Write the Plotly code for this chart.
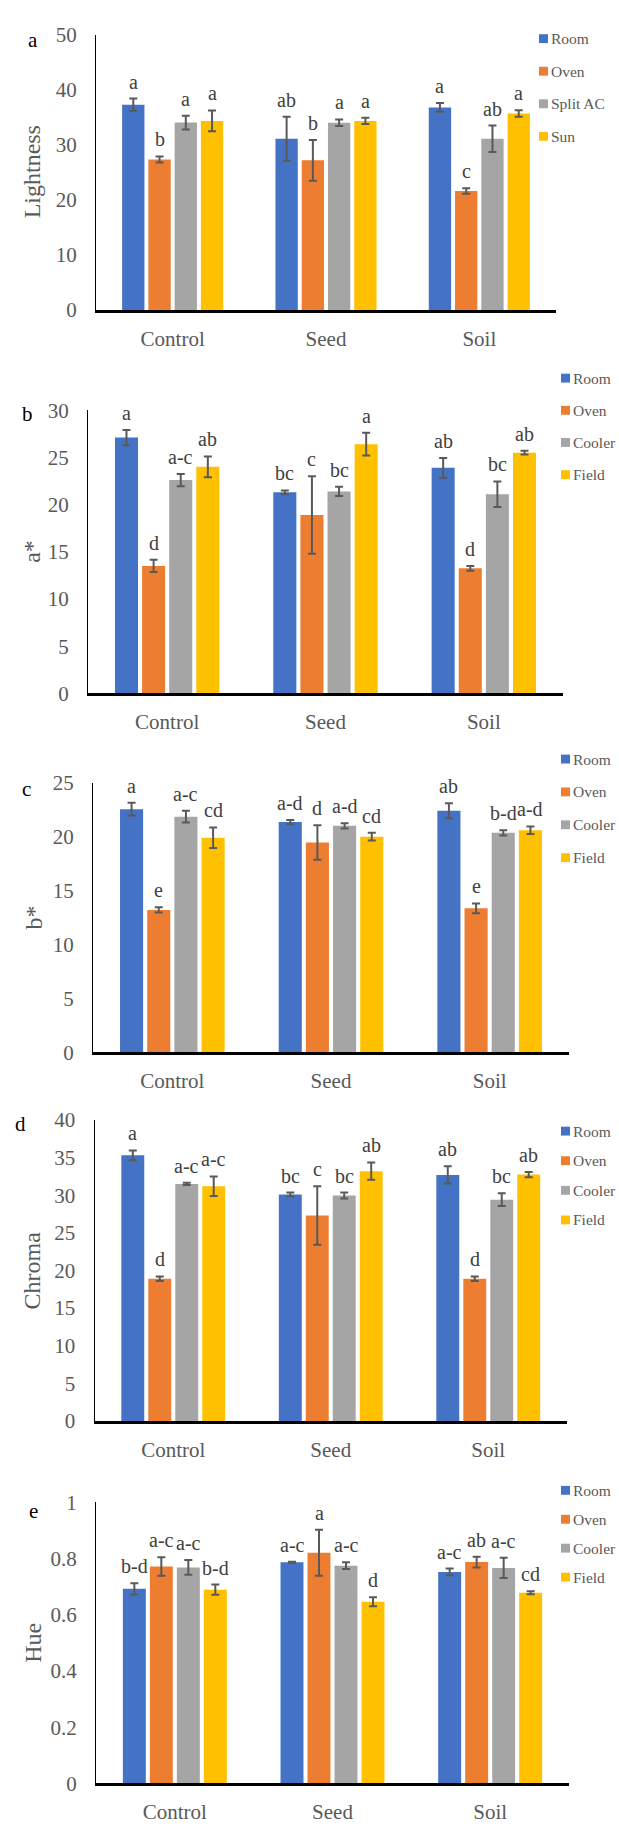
import plotly.graph_objects as go

# ---- data -------------------------------------------------------------
categories = ["Control", "Seed", "Soil"]

treatments_a = ["Room", "Oven", "Split AC", "Sun"]
treatments_bcde = ["Room", "Oven", "Cooler", "Field"]

# Lightness (rows: Room, Oven, Split AC, Sun; columns: Control, Seed, Soil)
lightness_mean = [[37.3, 31.1, 36.8], [27.35, 27.2, 21.6], [34.05, 34.0, 31.1], [34.35, 34.35, 35.7]]
lightness_err = [[1.1, 4.0, 0.8], [0.55, 3.7, 0.5], [1.25, 0.6, 2.4], [1.9, 0.55, 0.6]]
lightness_sig = [["a", "ab", "a"], ["b", "b", "c"], ["a", "a", "ab"], ["a", "a", "a"]]

# a* (rows: Room, Oven, Cooler, Field)
a_star_mean = [[27.1, 21.3, 23.9], [13.5, 18.9, 13.25], [22.6, 21.4, 21.1], [24.0, 26.4, 25.5]]
a_star_err = [[0.8, 0.2, 1.05], [0.65, 4.1, 0.25], [0.65, 0.5, 1.35], [1.1, 1.2, 0.2]]
a_star_sig = [["a", "bc", "ab"], ["d", "c", "d"], ["a-c", "bc", "bc"], ["ab", "a", "ab"]]

# b*
b_star_mean = [[22.55, 21.35, 22.4], [13.2, 19.45, 13.35], [21.85, 21.0, 20.35], [19.9, 20.0, 20.6]]
b_star_err = [[0.6, 0.2, 0.7], [0.25, 1.6, 0.45], [0.55, 0.25, 0.25], [0.95, 0.35, 0.35]]
b_star_sig = [["a", "a-d", "ab"], ["e", "d", "e"], ["a-c", "a-d", "b-d"], ["cd", "cd", "a-d"]]

# Chroma
chroma_mean = [[35.3, 30.1, 32.7], [18.9, 27.3, 18.9], [31.5, 29.95, 29.4], [31.2, 33.2, 32.75]]
chroma_err = [[0.65, 0.25, 1.15], [0.3, 3.9, 0.3], [0.15, 0.4, 0.85], [1.3, 1.15, 0.35]]
chroma_sig = [["a", "bc", "ab"], ["d", "c", "d"], ["a-c", "bc", "bc"], ["a-c", "ab", "ab"]]

# Hue
hue_mean = [[0.692, 0.786, 0.752], [0.771, 0.82, 0.787], [0.768, 0.774, 0.766], [0.689, 0.646, 0.678]]
hue_err = [[0.02, 0.002, 0.012], [0.033, 0.082, 0.019], [0.026, 0.012, 0.036], [0.018, 0.016, 0.005]]
hue_sig = [["b-d", "a-c", "a-c"], ["a-c", "a", "ab"], ["a-c", "a-c", "a-c"], ["b-d", "d", "cd"]]

y_ranges = [(0, 50, 10), (0, 30, 5), (0, 25, 5), (0, 40, 5), (0, 1, 0.2)]
y_titles = ["Lightness", "a*", "b*", "Chroma", "Hue"]
panel_letters = ["a", "b", "c", "d", "e"]

# ---- styling ------------------------------------------------------------
W, H = 619, 1828
colors = ["#4472C4", "#ED7D31", "#A5A5A5", "#FFC000"]
FONT = "Liberation Serif, Times New Roman, serif"
TICK_GREY = "#595959"
BARGAP = 0.315
BARGROUPGAP = 0.15

# pixel frames of each panel: (left, right, top, bottom)
frames = [
    (96, 556, 23, 302),
    (88, 563, 403.5, 690.5),
    (93, 569, 781, 1054),
    (94.5, 567, 1122.7, 1427.7),
    (96, 569, 1510, 1795),
]
# key placement: (swatch left px, first row centre px, row pitch px, font size)
key_pos = [
    (539, 27, 33, 15.5),
    (561, 371, 32.6, 15.5),
    (561, 757, 33.3, 15.5),
    (561, 1134, 30, 15.5),
    (561, 1498, 29.3, 15.5),
]
SWATCH = 9
title_x = [32, 32, 34, 32, 33]
letter_pos = [(33, 28), (27, 407), (26, 787), (20, 1127), (33, 1519)]

panels = [
    (treatments_a, lightness_mean, lightness_err, lightness_sig),
    (treatments_bcde, a_star_mean, a_star_err, a_star_sig),
    (treatments_bcde, b_star_mean, b_star_err, b_star_sig),
    (treatments_bcde, chroma_mean, chroma_err, chroma_sig),
    (treatments_bcde, hue_mean, hue_err, hue_sig),
]

fig = go.Figure()
annotations = []
shapes = []
layout = dict(
    width=W, height=H,
    margin=dict(l=0, r=0, t=0, b=0),
    paper_bgcolor="white", plot_bgcolor="white",
    barmode="group", bargap=BARGAP, bargroupgap=BARGROUPGAP,
    font=dict(family=FONT, color=TICK_GREY),
    showlegend=False,
)

for p, (names, means, errs, sigs) in enumerate(panels):
    sfx = "" if p == 0 else str(p + 1)
    xa, ya = "x" + sfx, "y" + sfx
    left, right, top, bottom = frames[p]

    for j, name in enumerate(names):
        fig.add_trace(go.Bar(
            x=categories, y=means[j], name=name,
            xaxis=xa, yaxis=ya, offsetgroup=str(j),
            marker=dict(color=colors[j], line=dict(width=0)),
            error_y=dict(type="data", array=errs[j], color="#595959",
                         thickness=2, width=4),
        ))
        # significance letters above each error bar
        slot = (1 - BARGAP) / len(names)
        for i in range(len(categories)):
            annotations.append(dict(
                x=i + (j - (len(names) - 1) / 2) * slot,
                y=means[j][i] + errs[j][i],
                xref=xa, yref=ya, text=sigs[j][i], showarrow=False,
                xanchor="center", yanchor="bottom", yshift=4,
                font=dict(family=FONT, size=20, color="#404040"),
            ))

        # key entry: colour swatch + treatment name
        kx, ky, pitch, ksize = key_pos[p]
        cy = ky + j * pitch
        shapes.append(dict(
            type="rect", xref="paper", yref="paper",
            x0=kx / W, x1=(kx + SWATCH) / W,
            y0=1 - (cy + SWATCH / 2) / H, y1=1 - (cy - SWATCH / 2) / H,
            fillcolor=colors[j], line=dict(width=0),
        ))
        annotations.append(dict(
            x=(kx + SWATCH + 1) / W, y=1 - cy / H, xref="paper", yref="paper",
            text=name, showarrow=False, xanchor="left", yanchor="middle",
            font=dict(family=FONT, size=ksize, color=TICK_GREY),
        ))

    y0, y1, dt = y_ranges[p]
    layout["xaxis" + sfx] = dict(
        domain=[left / W, right / W], anchor=ya,
        showline=True, linecolor="black", linewidth=2.5,
        showgrid=False, zeroline=False, ticks="",
        tickfont=dict(family=FONT, size=21, color=TICK_GREY),
        ticklabelstandoff=8, fixedrange=True,
    )
    layout["yaxis" + sfx] = dict(
        domain=[1 - bottom / H, 1 - top / H], anchor=xa,
        range=[y0, y1], dtick=dt, tick0=0,
        showline=True, linecolor="black", linewidth=1.3,
        showgrid=False, zeroline=False, ticks="",
        tickfont=dict(family=FONT, size=21, color=TICK_GREY),
        ticklabelstandoff=14, fixedrange=True,
    )
    # axis title
    annotations.append(dict(
        x=title_x[p] / W, y=1 - (top + bottom) / 2 / H, xref="paper", yref="paper",
        text=y_titles[p], textangle=-90, showarrow=False,
        xanchor="center", yanchor="middle",
        font=dict(family=FONT, size=24, color=TICK_GREY),
    ))
    # panel letter
    px_, py_ = letter_pos[p]
    annotations.append(dict(
        x=px_ / W, y=1 - py_ / H, xref="paper", yref="paper",
        text=panel_letters[p], showarrow=False,
        xanchor="center", yanchor="middle",
        font=dict(family=FONT, size=21, color="black"),
    ))

layout["annotations"] = annotations
layout["shapes"] = shapes
fig.update_layout(**layout)
fig.write_html("out.html")
